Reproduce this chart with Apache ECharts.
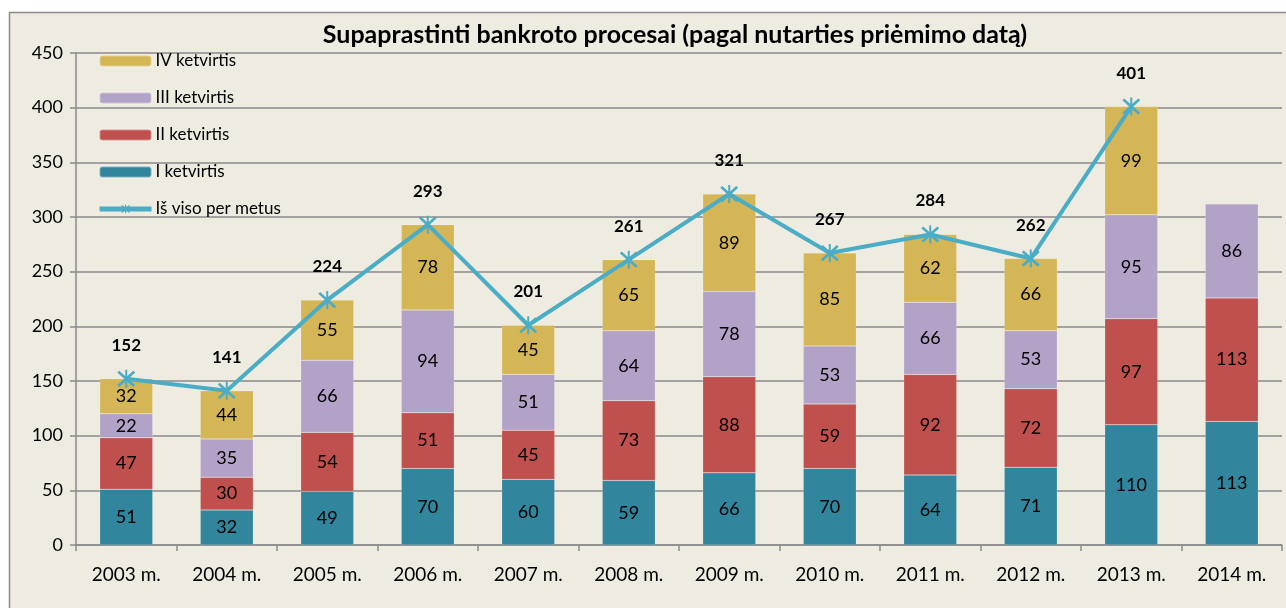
<!DOCTYPE html>
<html>
<head>
<meta charset="utf-8">
<script src="https://cdn.jsdelivr.net/npm/echarts@6/dist/echarts.min.js"></script>
<style>
  html, body { margin: 0; padding: 0; background: #fff; }
  #chart { width: 1286px; height: 608px; }
</style>
</head>
<body>
<div id="chart"></div>
<script>
const years = ['2003 m.', '2004 m.', '2005 m.', '2006 m.', '2007 m.', '2008 m.', '2009 m.', '2010 m.', '2011 m.', '2012 m.', '2013 m.', '2014 m.']
const q1 = [51, 32, 49, 70, 60, 59, 66, 70, 64, 71, 110, 113]
const q2 = [47, 30, 54, 51, 45, 73, 88, 59, 92, 72, 97, 113]
const q3 = [22, 35, 66, 94, 51, 64, 78, 53, 66, 53, 95, 86]
const q4 = [32, 44, 55, 78, 45, 65, 89, 85, 62, 66, 99, null]
const totals = [152, 141, 224, 293, 201, 261, 321, 267, 284, 262, 401, null]
const yTicks = { min: 0, max: 450, interval: 50 }

const font = 'Lato, "Open Sans", sans-serif'
const star = 'path://M9,0 L11,0 L11,20 L9,20 Z M1,3 L3,1 L19,17 L17,19 Z M17,1 L19,3 L3,19 L1,17 Z'

const chart = echarts.init(document.getElementById('chart'))

const barSeries = (name, data, color) => ({
  name,
  type: 'bar',
  stack: 'q',
  data,
  barWidth: 53,
  itemStyle: { color, borderColor: 'rgba(255,255,255,0.35)', borderWidth: 0.5 },
  label: {
    show: true,
    position: 'inside',
    color: '#000',
    fontSize: 18,
    fontFamily: font,
    formatter: (p) => (p.value == null ? '' : p.value),
  },
})

chart.setOption({
  backgroundColor: '#fff',
  textStyle: { fontFamily: font },
  graphic: [
    {
      type: 'rect',
      z: -10,
      silent: true,
      shape: { x: 9.5, y: 12.5, width: 1300, height: 620 },
      style: { fill: '#EEECE1', stroke: '#8a8a8a', lineWidth: 1.5 },
    },
  ],
  title: {
    text: 'Supaprastinti bankroto procesai (pagal nutarties priėmimo datą)',
    left: 670,
    textAlign: 'center',
    top: 17,
    textStyle: { fontSize: 25, fontWeight: 'bold', color: '#000', fontFamily: font },
  },
  legend: {
    orient: 'vertical',
    left: 92,
    top: 46,
    itemWidth: 52,
    itemHeight: 11,
    itemGap: 17,
    lineStyle: { width: 5 },
    data: ['IV ketvirtis', 'III ketvirtis', 'II ketvirtis', 'I ketvirtis', 'Iš viso per metus'],
    textStyle: { fontSize: 17, lineHeight: 20, color: '#000', fontFamily: font, padding: [0, 0, 0, -1] },
  },
  grid: { left: 76, right: 4, top: 53, bottom: 63 },
  xAxis: {
    type: 'category',
    data: years,
    axisLine: { lineStyle: { color: '#8a8a8a', width: 1.5 } },
    axisTick: { show: true, length: 6, lineStyle: { color: '#8a8a8a', width: 1.5 } },
    axisLabel: { color: '#000', fontSize: 19, margin: 20, fontFamily: font },
  },
  yAxis: {
    type: 'value',
    min: yTicks.min,
    max: yTicks.max,
    interval: yTicks.interval,
    axisLine: { show: true, lineStyle: { color: '#8a8a8a', width: 1.5 } },
    axisTick: { show: true, length: 6, lineStyle: { color: '#8a8a8a', width: 1.5 } },
    splitLine: { lineStyle: { color: '#8a8a8a', width: 1.5 } },
    axisLabel: { color: '#000', fontSize: 18, margin: 13, fontFamily: font },
  },
  series: [
    barSeries('I ketvirtis', q1, '#31859C'),
    barSeries('II ketvirtis', q2, '#C0504D'),
    barSeries('III ketvirtis', q3, '#B3A2C7'),
    barSeries('IV ketvirtis', q4, '#D4B656'),
    {
      name: 'Iš viso per metus',
      type: 'line',
      data: totals,
      z: 5,
      color: '#4BACC6',
      lineStyle: { color: '#4BACC6', width: 4 },
      itemStyle: { color: '#4BACC6' },
      symbol: star,
      symbolSize: 18,
      label: {
        show: true,
        position: 'top',
        distance: 16,
        color: '#000',
        fontSize: 17,
        fontWeight: 'bold',
        fontFamily: font,
      },
    },
  ],
})
</script>
</body>
</html>
